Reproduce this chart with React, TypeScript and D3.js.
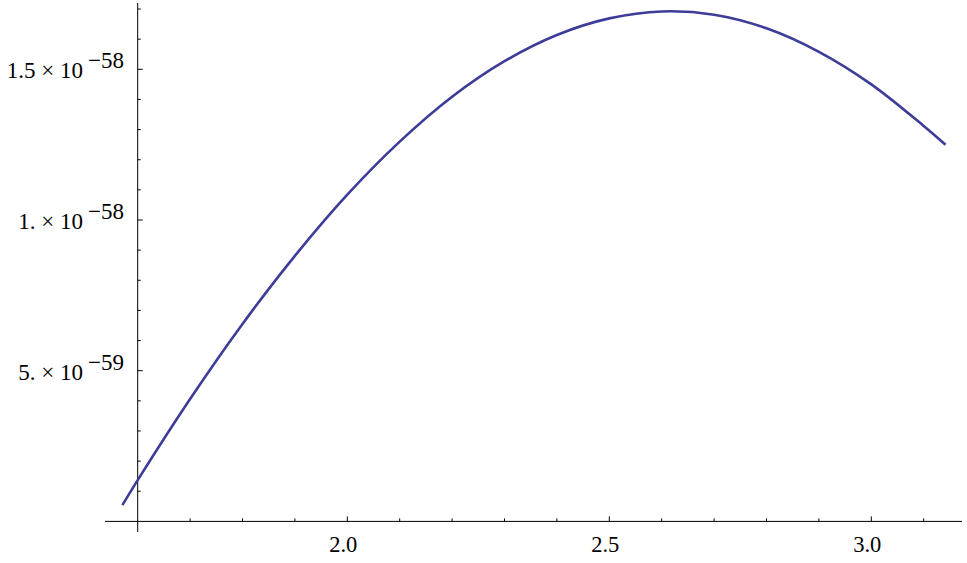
import React from 'react';
import * as d3 from 'd3';

// curve samples
const xValues = [1.5708, 1.6, 1.7, 1.8, 1.9, 2.0, 2.1, 2.2, 2.3, 2.4, 2.5, 2.6, 2.7, 2.8, 2.9, 3.0, 3.1, 3.1416];
const yValues = [
  0.54e-59, 1.37e-59, 4.06e-59, 6.55e-59, 8.81e-59, 10.84e-59, 12.6e-59, 14.09e-59, 15.27e-59,
  16.14e-59, 16.69e-59, 16.92e-59, 16.81e-59, 16.36e-59, 15.58e-59, 14.5e-59, 13.12e-59, 12.5e-59
];

const xTickValues = [2.0, 2.5, 3.0];
const xTickLabels = ['2.0', '2.5', '3.0'];
const yTickValues = [5e-59, 1e-58, 1.5e-58];
const yTickMantissa = ['5.', '1.', '1.5'];
const yTickExponent = ['\u221259', '\u221258', '\u221258'];

const W = 967,
  H = 563;
const font = '"Liberation Serif", "Times New Roman", serif';

const App = () => {
  let x = d3.scaleLinear().domain([1.6, 3.0]).range([137.7, 871.3]);
  let y = d3.scaleLinear().domain([0, 5e-59]).range([521.4, 370.7]);

  let line = d3
    .line<number>()
    .x((d, i) => x(xValues[i]))
    .y(d => y(d))
    .curve(d3.curveCatmullRom.alpha(0.5));

  let xMinor = d3.range(17, 32).map(i => i / 10).filter(v => !xTickValues.some(t => Math.abs(t - v) < 1e-9));
  let yMinor = d3.range(1, 18).map(i => i * 1e-59).filter(v => !yTickValues.some(t => Math.abs(t - v) < 1e-62));

  const x0 = x(1.6),
    y0 = y(0);

  return (
    <svg width={W} height={H} style={{ position: 'absolute', left: 0, top: 0, background: '#fff' }}>
      {/* axes */}
      <line x1={105} x2={962} y1={y0} y2={y0} stroke="#000" strokeWidth={1} />
      <line x1={x0} x2={x0} y1={3} y2={532} stroke="#000" strokeWidth={1} />

      {xTickValues.map((v, i) => (
        <g key={'xt' + i}>
          <line x1={x(v)} x2={x(v)} y1={y0} y2={y0 - 5} stroke="#000" />
          <text
            x={x(v) - 4}
            y={552}
            textAnchor="middle"
            style={{ fontFamily: font, fontSize: 22.5, fill: '#000' }}
          >
            {xTickLabels[i]}
          </text>
        </g>
      ))}
      {xMinor.map((v, i) => (
        <line key={'xm' + i} x1={x(v)} x2={x(v)} y1={y0} y2={y0 - 3} stroke="#000" />
      ))}

      {yTickValues.map((v, i) => (
        <g key={'yt' + i}>
          <line x1={x0} x2={x0 + 5} y1={y(v)} y2={y(v)} stroke="#000" />
          <text x={124} y={y(v) + 9} textAnchor="end" style={{ fontFamily: font, fontSize: 23, fill: '#000' }}>
            <tspan>{yTickMantissa[i] + ' \u00d7 10'}</tspan>
            <tspan dx={5} dy={-10}>
              {yTickExponent[i]}
            </tspan>
          </text>
        </g>
      ))}
      {yMinor.map((v, i) => (
        <line key={'ym' + i} x1={x0} x2={x0 + 3} y1={y(v)} y2={y(v)} stroke="#000" />
      ))}

      <path d={line(yValues) || ''} fill="none" stroke="#3d3d99" strokeWidth={2.6} strokeLinejoin="round" />
    </svg>
  );
};

export default App;
